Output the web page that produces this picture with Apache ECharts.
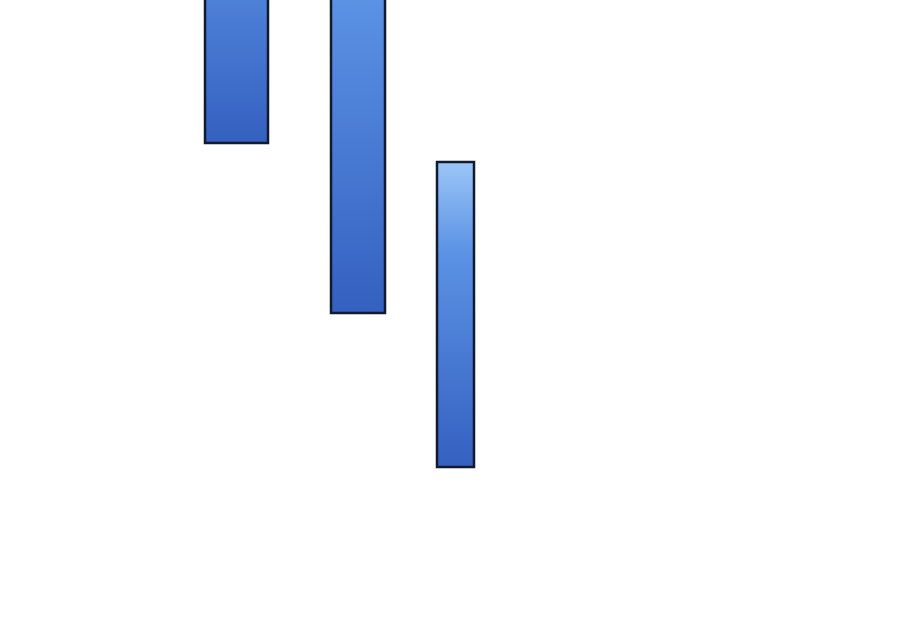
<!DOCTYPE html>
<html>
<head>
<meta charset="utf-8">
<script src="https://cdn.jsdelivr.net/npm/echarts@6/dist/echarts.min.js"></script>
<style>html,body{margin:0;padding:0;background:#fff;}#c{width:900px;height:630px;}</style>
</head>
<body>
<div id="c"></div>
<script>
// Floating bars: horizontal extent and vertical range (value units, bottom = 0)
const barStart = [205, 331, 437];
const barEnd   = [268, 385, 474];
const barLow   = [487, 317, 163];
const barHigh  = [805, 764, 468];

const data = barStart.map((s, i) => [s, barEnd[i], barLow[i], barHigh[i]]);

const chart = echarts.init(document.getElementById('c'));
chart.setOption({
  animation: false,
  backgroundColor: '#ffffff',
  grid: { left: 0, right: 0, top: 0, bottom: 0 },
  xAxis: { type: 'value', min: 0, max: 900, show: false },
  yAxis: { type: 'value', min: 0, max: 630, show: false },
  series: [{
    type: 'custom',
    clip: true,
    data: data,
    renderItem: function (params, api) {
      const p1 = api.coord([api.value(0), api.value(3)]);
      const p2 = api.coord([api.value(1), api.value(2)]);
      return {
        type: 'rect',
        shape: { x: p1[0], y: p1[1], width: p2[0] - p1[0], height: p2[1] - p1[1] },
        style: {
          fill: new echarts.graphic.LinearGradient(0, 0, 0, 1, [
            { offset: 0, color: '#9cc6f8' },
            { offset: 0.3, color: '#5b92e4' },
            { offset: 1, color: '#3460c0' }
          ]),
          stroke: '#121a30',
          lineWidth: 2.5
        }
      };
    }
  }]
});
</script>
</body>
</html>
